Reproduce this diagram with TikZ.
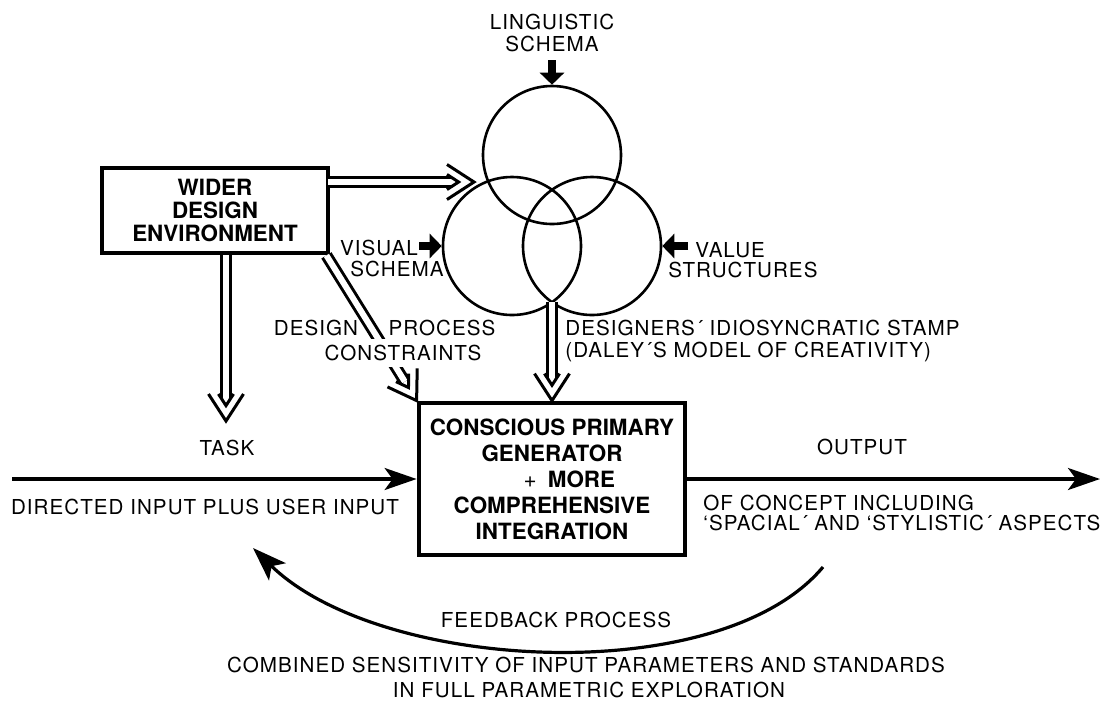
\documentclass[tikz,border=0pt]{standalone}
\usepackage{fontspec}
\setmainfont{TeX Gyre Heros}
\newfontfamily\lblfont[LetterSpace=5]{TeX Gyre Heros}
\usetikzlibrary{arrows.meta,calc}
\begin{document}
\begin{tikzpicture}[x=0.5pt,y=-0.5pt,
  lbl/.style={font=\lblfont\fontsize{10.3}{10.3}\selectfont, inner sep=0pt},
  bigbox/.style={draw, line width=2.4pt, inner sep=0pt, align=center},
  venn/.style={circle, draw, line width=1.3pt, minimum size=69pt, inner sep=0pt},
  dshaft/.style={draw, double, line width=1.5pt, double distance=3pt, shorten >=11.2pt},
  dhead/.pic={
    \draw[line width=1.5pt, line join=miter] (-13.5pt,-8.75pt) -- (0pt,0pt) -- (-13.5pt,8.75pt);
    \draw[line width=1.5pt, line join=miter] (-13.5pt,-3.76pt) -- (-7.7pt,0pt) -- (-13.5pt,3.76pt);
  },
  blk/.style={line width=4pt, -{Triangle[length=6pt,width=12pt]}},
  mainarr/.style={line width=1.6pt, -{Stealth[length=16pt,width=11pt,inset=4pt]}},
]
\useasboundingbox (0,0) rectangle (1110,703);

% boxes
\node[bigbox, minimum width=113pt, minimum height=42.5pt,
      font=\bfseries\fontsize{11.2}{11.5}\selectfont] (wde) at (215,210.5)
      {WIDER\\DESIGN\\ENVIRONMENT};
\node[bigbox, minimum width=133pt, minimum height=76pt,
      font=\bfseries\fontsize{11.2}{13}\selectfont] (cpg) at (552,479)
      {CONSCIOUS PRIMARY\\GENERATOR\\\hspace*{29.5pt}\makebox[0pt][r]{{\mdseries +}\hspace{0.5em}}MORE\\COMPREHENSIVE\\INTEGRATION};

% venn circles
\node[venn] (ling) at (552,155) {};
\node[venn] (vis) at (512,246) {};
\node[venn] (val) at (592,246) {};

% labels
\node[lbl, align=center] (lingtxt) at (552,33) {LINGUISTIC\\[1pt]SCHEMA};
\node[lbl] (vistxt1) at (379,248) {VISUAL};
\node[lbl] (vistxt2) at (397,269) {SCHEMA};
\node[lbl, anchor=west] (valtxt1) at (695,250) {VALUE};
\node[lbl, anchor=west] (valtxt2) at (668,270) {STRUCTURES};
\node[lbl, anchor=west] (stamp1) at (565,328) {DESIGNERS´ IDIOSYNCRATIC STAMP};
\node[lbl, anchor=west] (stamp2) at (565,352) {(DALEY´S MODEL OF CREATIVITY)};
\node[lbl] (dsg) at (316,328) {DESIGN};
\node[lbl] (proc) at (442,328) {PROCESS};
\node[lbl] (task) at (227,448) {TASK};
\node[lbl] (input) at (205,507) {DIRECTED INPUT PLUS USER INPUT};
\node[lbl] (output) at (862,447) {OUTPUT};
\node[lbl, anchor=west] (oc1) at (703,503) {OF CONCEPT INCLUDING};
\node[lbl, anchor=west] (oc2) at (703,523) {‘SPACIAL´ AND ‘STYLISTIC´ ASPECTS};
\node[lbl] (fbtxt) at (556,620) {FEEDBACK PROCESS};
\node[lbl] (comb1) at (586,665) {COMBINED SENSITIVITY OF INPUT PARAMETERS AND STANDARDS};
\node[lbl] (comb2) at (589,690) {IN FULL PARAMETRIC EXPLORATION};

% coordinates
\coordinate (lingin) at (552,60);
\coordinate (visin) at (419,246);
\coordinate (valin) at (688,246);
\coordinate (stampc) at (552,302);
\coordinate (wdeout) at (328,182);
\coordinate (circin) at (474,182);
\coordinate (taskc) at (226,421);
\coordinate (inl) at (12,479);
\coordinate (outr) at (1100,479);
\coordinate (fbs) at (823,567);
\coordinate (fbe) at (253,548);

% small block arrows
\draw[blk] (lingin) -- (ling.north);
\draw[blk] (visin) -- (vis.west);
\draw[blk] (valin) -- (val.east);

% double arrows
\draw[dshaft] (wdeout) -- (circin);
\path (wdeout) -- (circin) pic[pos=1, sloped] {dhead};
\draw[dshaft] (wde.south -| taskc) -- (taskc);
\path (wde.south -| taskc) -- (taskc) pic[pos=1, sloped] {dhead};
\draw[dshaft] (stampc) -- (cpg.north);
\path (stampc) -- (cpg.north) pic[pos=1, sloped] {dhead};
\draw[dshaft] ($(wde.south east)+(-4,0)$) -- (cpg.north west);
\path ($(wde.south east)+(-4,0)$) -- (cpg.north west) pic[pos=1, sloped] {dhead};
\node[lbl, fill=white, inner ysep=3pt] (cons) at (403,353) {CONSTRAINTS};

% main arrows
\draw[mainarr] (inl) -- (cpg.west);
\draw[mainarr] (cpg.east) -- (outr);
\draw[line width=1.6pt, -{Stealth[length=17pt,width=12pt,inset=4pt]}]
  (fbs) .. controls (720,690) and (380,672) .. (fbe);
\end{tikzpicture}
\end{document}
